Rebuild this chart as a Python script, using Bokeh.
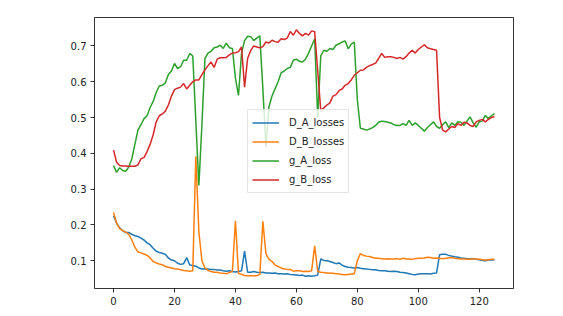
from bokeh.plotting import figure
from bokeh.models import Range1d, FixedTicker
from bokeh.embed import file_html
from bokeh.resources import INLINE

steps = list(range(126))

D_A_losses = [
    0.225, 0.205, 0.192, 0.184, 0.179, 0.179, 0.174, 0.170, 0.168, 0.163,
    0.158, 0.150, 0.145, 0.135, 0.127, 0.123, 0.121, 0.118, 0.108, 0.102,
    0.100, 0.093, 0.090, 0.092, 0.109, 0.088, 0.087, 0.085, 0.080, 0.077,
    0.078, 0.077, 0.076, 0.076, 0.074, 0.074, 0.072, 0.071, 0.072, 0.070,
    0.069, 0.070, 0.072, 0.127, 0.068, 0.068, 0.070, 0.068, 0.067, 0.068,
    0.066, 0.066, 0.065, 0.066, 0.064, 0.064, 0.063, 0.064, 0.062, 0.061,
    0.060, 0.059, 0.060, 0.057, 0.058, 0.057, 0.058, 0.060, 0.105, 0.101,
    0.100, 0.098, 0.095, 0.092, 0.094, 0.088, 0.084, 0.082, 0.081, 0.080,
    0.081, 0.079, 0.078, 0.077, 0.076, 0.075, 0.075, 0.073, 0.072, 0.072,
    0.071, 0.070, 0.071, 0.070, 0.068, 0.067, 0.066, 0.064, 0.062, 0.061,
    0.063, 0.064, 0.064, 0.064, 0.063, 0.065, 0.066, 0.117, 0.118, 0.118,
    0.115, 0.113, 0.111, 0.110, 0.108, 0.107, 0.106, 0.105, 0.106, 0.104,
    0.103, 0.101, 0.100, 0.102, 0.102, 0.103,
]

D_B_losses = [
    0.235, 0.205, 0.190, 0.184, 0.180, 0.174, 0.158, 0.138, 0.125, 0.122,
    0.119, 0.115, 0.108, 0.098, 0.094, 0.091, 0.089, 0.084, 0.082, 0.080,
    0.078, 0.077, 0.075, 0.073, 0.072, 0.071, 0.072, 0.392, 0.180, 0.100,
    0.080, 0.073, 0.070, 0.068, 0.068, 0.066, 0.065, 0.064, 0.067, 0.070,
    0.212, 0.065, 0.062, 0.059, 0.058, 0.058, 0.058, 0.058, 0.062, 0.210,
    0.120, 0.104, 0.098, 0.088, 0.084, 0.080, 0.077, 0.076, 0.076, 0.071,
    0.072, 0.072, 0.070, 0.071, 0.070, 0.072, 0.142, 0.070, 0.068, 0.067,
    0.066, 0.065, 0.065, 0.064, 0.063, 0.062, 0.061, 0.062, 0.063, 0.064,
    0.100, 0.120, 0.115, 0.113, 0.112, 0.109, 0.107, 0.107, 0.106, 0.105,
    0.106, 0.105, 0.105, 0.106, 0.104, 0.107, 0.105, 0.105, 0.104, 0.106,
    0.107, 0.107, 0.108, 0.110, 0.109, 0.107, 0.108, 0.107, 0.106, 0.107,
    0.108, 0.109, 0.107, 0.106, 0.105, 0.105, 0.104, 0.104, 0.105, 0.105,
    0.104, 0.103, 0.102, 0.103, 0.104, 0.104,
]

g_A_loss = [
    0.366, 0.347, 0.360, 0.352, 0.350, 0.362, 0.385, 0.425, 0.465, 0.480,
    0.497, 0.505, 0.528, 0.545, 0.570, 0.588, 0.590, 0.597, 0.620, 0.630,
    0.651, 0.637, 0.642, 0.660, 0.660, 0.679, 0.672, 0.490, 0.310, 0.480,
    0.665, 0.680, 0.685, 0.695, 0.697, 0.702, 0.693, 0.708, 0.695, 0.693,
    0.610, 0.562, 0.680, 0.715, 0.727, 0.726, 0.715, 0.722, 0.728, 0.580,
    0.418, 0.530, 0.560, 0.580, 0.600, 0.625, 0.630, 0.637, 0.640, 0.660,
    0.663, 0.657, 0.655, 0.663, 0.680, 0.700, 0.720, 0.500, 0.672, 0.688,
    0.685, 0.693, 0.690, 0.702, 0.706, 0.711, 0.714, 0.692, 0.705, 0.711,
    0.550, 0.470, 0.468, 0.465, 0.468, 0.472, 0.478, 0.487, 0.490, 0.489,
    0.487, 0.485, 0.480, 0.478, 0.478, 0.483, 0.478, 0.492, 0.478, 0.485,
    0.478, 0.470, 0.462, 0.472, 0.480, 0.488, 0.475, 0.470, 0.480, 0.488,
    0.472, 0.485, 0.478, 0.488, 0.487, 0.478, 0.490, 0.502, 0.485, 0.473,
    0.488, 0.490, 0.506, 0.497, 0.505, 0.511,
]

g_B_loss = [
    0.409, 0.375, 0.366, 0.365, 0.365, 0.364, 0.364, 0.364, 0.368, 0.385,
    0.388, 0.405, 0.425, 0.452, 0.488, 0.505, 0.510, 0.518, 0.535, 0.560,
    0.578, 0.582, 0.585, 0.595, 0.580, 0.590, 0.600, 0.605, 0.605, 0.620,
    0.633, 0.645, 0.655, 0.640, 0.663, 0.667, 0.667, 0.668, 0.675, 0.680,
    0.681, 0.684, 0.697, 0.585, 0.665, 0.687, 0.700, 0.697, 0.695, 0.698,
    0.711, 0.708, 0.716, 0.712, 0.710, 0.720, 0.718, 0.722, 0.740, 0.730,
    0.745, 0.735, 0.728, 0.735, 0.730, 0.742, 0.740, 0.630, 0.520, 0.527,
    0.535, 0.541, 0.560, 0.564, 0.575, 0.580, 0.590, 0.595, 0.605, 0.618,
    0.625, 0.632, 0.633, 0.640, 0.645, 0.648, 0.652, 0.665, 0.679, 0.668,
    0.670, 0.670, 0.668, 0.665, 0.668, 0.663, 0.670, 0.680, 0.688, 0.680,
    0.690, 0.697, 0.703, 0.695, 0.692, 0.690, 0.688, 0.500, 0.465, 0.460,
    0.468, 0.475, 0.472, 0.483, 0.478, 0.487, 0.485, 0.478, 0.475, 0.488,
    0.492, 0.495, 0.488, 0.495, 0.500, 0.503,
]

x_ticks = [0, 20, 40, 60, 80, 100, 120]
y_ticks = [0.1, 0.2, 0.3, 0.4, 0.5, 0.6, 0.7]

series = [
    ("D_A_losses", D_A_losses, "#1f77b4"),
    ("D_B_losses", D_B_losses, "#ff7f0e"),
    ("g_A_loss", g_A_loss, "#2ca02c"),
    ("g_B_loss", g_B_loss, "#d62728"),
]

all_vals = D_A_losses + D_B_losses + g_A_loss + g_B_loss
ylo, yhi = min(all_vals), max(all_vals)
ypad = 0.05 * (yhi - ylo)
xlo, xhi = min(steps), max(steps)
xpad = 0.05 * (xhi - xlo)

p = figure(width=555, height=308, output_backend="svg", toolbar_location=None,
           x_range=Range1d(xlo - xpad, xhi + xpad),
           y_range=Range1d(ylo - ypad, yhi + ypad),
           min_border_left=94, min_border_right=42,
           min_border_top=17, min_border_bottom=20)

for name, vals, color in series:
    p.line(steps, vals, line_color=color, line_width=1.5, legend_label=name)

p.background_fill_color = "white"
p.border_fill_color = "white"
p.outline_line_color = "black"
p.outline_line_width = 0.8
p.grid.visible = False

for ax in (p.xaxis[0], p.yaxis[0]):
    ax.axis_line_color = None
    ax.major_tick_line_color = "black"
    ax.major_tick_line_width = 0.8
    ax.major_tick_out = 4
    ax.major_tick_in = 0
    ax.minor_tick_line_color = None
    ax.major_label_text_font = "DejaVu Sans"
    ax.major_label_text_font_size = "10px"
    ax.major_label_text_color = "#222222"
    ax.major_label_standoff = 4

p.xaxis[0].ticker = FixedTicker(ticks=x_ticks)
p.yaxis[0].ticker = FixedTicker(ticks=y_ticks)

lg = p.legend[0]
lg.location = (153, 95)
lg.margin = 0
lg.padding = 4
lg.spacing = 2
lg.glyph_width = 27
lg.glyph_height = 17
lg.label_height = 17
lg.label_standoff = 10
lg.label_text_font = "DejaVu Sans"
lg.label_text_font_size = "10px"
lg.label_text_color = "#222222"
lg.border_line_color = "#cccccc"
lg.border_line_width = 1
lg.background_fill_color = "white"
lg.background_fill_alpha = 0.8

open("out.html", "w").write(file_html(p, INLINE))
